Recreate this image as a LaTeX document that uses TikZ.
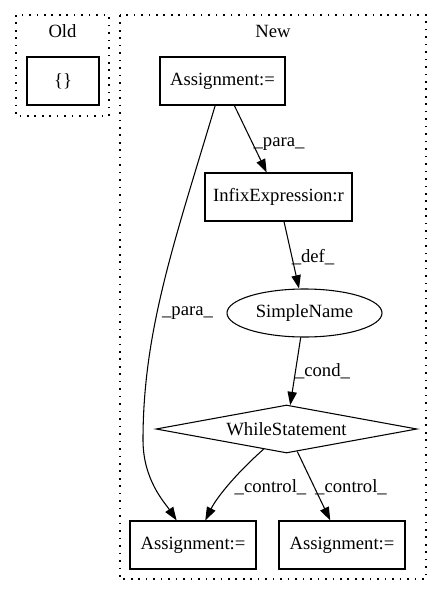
\documentclass[tikz,border=0pt]{standalone}
\usepackage{fontspec}
\setmainfont{Liberation Serif}
\usetikzlibrary{shapes.geometric,arrows.meta}
\begin{document}
\begin{tikzpicture}[x=0.75pt,y=-0.75pt,
  every node/.style={font=\fontsize{14pt}{16pt}\selectfont},
  box/.style={draw,line width=0.8pt,rectangle,inner sep=0pt,minimum height=36pt},
  oval/.style={draw,line width=0.8pt,ellipse,inner sep=0pt,minimum width=116.25pt,minimum height=36pt},
  decision/.style={draw,line width=0.8pt,diamond,inner sep=0pt,shape aspect=5.4375,minimum width=195.75pt,minimum height=36pt},
  cluster/.style={draw,line width=0.8pt,dash pattern=on 1.2pt off 4.4pt},
  edge/.style={draw,line width=0.8pt,-{Triangle[length=10pt,width=7pt]}},
  elabel/.style={inner sep=0pt}]
\useasboundingbox (0,0) rectangle (443,596);
% clusters
\draw[cluster] (16,15) rectangle (109,116);
\draw[cluster] (120,15) rectangle (426,579);
\node[elabel] (oldlbl) at (62.5,31) {Old};
\node[elabel] (newlbl) at (273,31) {New};
% nodes
\node[box,minimum width=54pt] (old) at (63,81) {\{\}};
\node[box,minimum width=93.75pt] (topA) at (222.5,81) {Assignment:=};
\node[box,minimum width=110.25pt] (infix) at (278.5,197) {InfixExpression:r};
\node[oval] (sname) at (304.5,313) {SimpleName};
\node[decision] (while) at (286.5,429) {WhileStatement};
\node[box,minimum width=94.5pt] (botL) at (193,545) {Assignment:=};
\node[box,minimum width=94.5pt] (botR) at (342,545) {Assignment:=};
% edges
\coordinate (m1) at (143,440);
\draw[edge] (topA) -- (infix);
\draw[edge] (infix) -- (sname);
\draw[edge] (sname) -- (while);
\draw[edge] (topA) .. controls (175,240) and (143,330) .. (m1) .. controls (143,480) and (165,503) .. (botL);
\draw[edge] (while) .. controls (240,470) and (218,495) .. (botL);
\draw[edge] (while) -- (botR);
% edge labels
\node[elabel] (l1) at (279,144) {\_para\_};
\node[elabel] (l2) at (313,257) {\_def\_};
\node[elabel] (l3) at (187.5,313) {\_para\_};
\node[elabel] (l4) at (322.5,371) {\_cond\_};
\node[elabel] (l5) at (270.5,487) {\_control\_};
\node[elabel] (l6) at (351,487) {\_control\_};
\end{tikzpicture}
\end{document}
